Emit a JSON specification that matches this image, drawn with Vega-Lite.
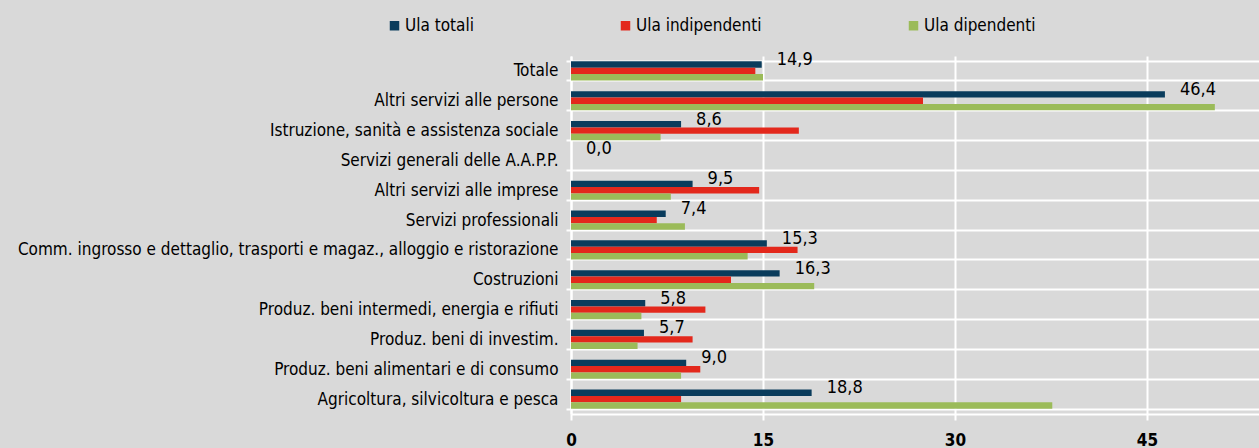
{
  "$schema": "https://vega.github.io/schema/vega-lite/v6.json",
  "autosize": {"type": "none"},
  "width": 688,
  "height": 358,
  "padding": {"left": 571, "top": 56, "right": 0, "bottom": 34},
  "background": "#d9d9d9",
  "config": {
    "view": {"stroke": null},
    "font": "DejaVu Sans Condensed, sans-serif",
    "locale": {"number": {"decimal": ",", "thousands": ".", "grouping": [3], "currency": ["€", ""]}}
  },
  "data": {
    "values": [
      {"settore": "Totale", "serie": "Ula totali", "valore": 14.9},
      {"settore": "Totale", "serie": "Ula indipendenti", "valore": 14.4},
      {"settore": "Totale", "serie": "Ula dipendenti", "valore": 15.0},
      {"settore": "Altri servizi alle persone", "serie": "Ula totali", "valore": 46.4},
      {"settore": "Altri servizi alle persone", "serie": "Ula indipendenti", "valore": 27.5},
      {"settore": "Altri servizi alle persone", "serie": "Ula dipendenti", "valore": 50.3},
      {"settore": "Istruzione, sanità e assistenza sociale", "serie": "Ula totali", "valore": 8.6},
      {"settore": "Istruzione, sanità e assistenza sociale", "serie": "Ula indipendenti", "valore": 17.8},
      {"settore": "Istruzione, sanità e assistenza sociale", "serie": "Ula dipendenti", "valore": 7.0},
      {"settore": "Servizi generali delle A.A.P.P.", "serie": "Ula totali", "valore": 0.0},
      {"settore": "Servizi generali delle A.A.P.P.", "serie": "Ula indipendenti", "valore": 0.0},
      {"settore": "Servizi generali delle A.A.P.P.", "serie": "Ula dipendenti", "valore": 0.0},
      {"settore": "Altri servizi alle imprese", "serie": "Ula totali", "valore": 9.5},
      {"settore": "Altri servizi alle imprese", "serie": "Ula indipendenti", "valore": 14.7},
      {"settore": "Altri servizi alle imprese", "serie": "Ula dipendenti", "valore": 7.8},
      {"settore": "Servizi professionali", "serie": "Ula totali", "valore": 7.4},
      {"settore": "Servizi professionali", "serie": "Ula indipendenti", "valore": 6.7},
      {"settore": "Servizi professionali", "serie": "Ula dipendenti", "valore": 8.9},
      {"settore": "Comm. ingrosso e dettaglio, trasporti e magaz., alloggio e ristorazione", "serie": "Ula totali", "valore": 15.3},
      {"settore": "Comm. ingrosso e dettaglio, trasporti e magaz., alloggio e ristorazione", "serie": "Ula indipendenti", "valore": 17.7},
      {"settore": "Comm. ingrosso e dettaglio, trasporti e magaz., alloggio e ristorazione", "serie": "Ula dipendenti", "valore": 13.8},
      {"settore": "Costruzioni", "serie": "Ula totali", "valore": 16.3},
      {"settore": "Costruzioni", "serie": "Ula indipendenti", "valore": 12.5},
      {"settore": "Costruzioni", "serie": "Ula dipendenti", "valore": 19.0},
      {"settore": "Produz. beni intermedi, energia e rifiuti", "serie": "Ula totali", "valore": 5.8},
      {"settore": "Produz. beni intermedi, energia e rifiuti", "serie": "Ula indipendenti", "valore": 10.5},
      {"settore": "Produz. beni intermedi, energia e rifiuti", "serie": "Ula dipendenti", "valore": 5.5},
      {"settore": "Produz. beni di investim.", "serie": "Ula totali", "valore": 5.7},
      {"settore": "Produz. beni di investim.", "serie": "Ula indipendenti", "valore": 9.5},
      {"settore": "Produz. beni di investim.", "serie": "Ula dipendenti", "valore": 5.2},
      {"settore": "Produz. beni alimentari e di consumo", "serie": "Ula totali", "valore": 9.0},
      {"settore": "Produz. beni alimentari e di consumo", "serie": "Ula indipendenti", "valore": 10.1},
      {"settore": "Produz. beni alimentari e di consumo", "serie": "Ula dipendenti", "valore": 8.6},
      {"settore": "Agricoltura, silvicoltura e pesca", "serie": "Ula totali", "valore": 18.8},
      {"settore": "Agricoltura, silvicoltura e pesca", "serie": "Ula indipendenti", "valore": 8.6},
      {"settore": "Agricoltura, silvicoltura e pesca", "serie": "Ula dipendenti", "valore": 37.6}
    ]
  },
  "encoding": {
    "y": {
      "field": "settore",
      "type": "nominal",
      "sort": ["Totale", "Altri servizi alle persone", "Istruzione, sanità e assistenza sociale", "Servizi generali delle A.A.P.P.", "Altri servizi alle imprese", "Servizi professionali", "Comm. ingrosso e dettaglio, trasporti e magaz., alloggio e ristorazione", "Costruzioni", "Produz. beni intermedi, energia e rifiuti", "Produz. beni di investim.", "Produz. beni alimentari e di consumo", "Agricoltura, silvicoltura e pesca"],
      "scale": {"paddingInner": 0.36, "paddingOuter": 0.18},
      "axis": {
        "title": null,
        "tickBand": "extent",
        "grid": true,
        "gridColor": "#ffffff",
        "gridWidth": 2,
        "gridOpacity": 1,
        "domainColor": "#ffffff",
        "domainWidth": 2,
        "tickColor": "#ffffff",
        "tickWidth": 2,
        "tickSize": 5,
        "labelFontSize": 17,
        "labelColor": "#000000",
        "labelPadding": 8,
        "labelLimit": 600
      }
    },
    "x": {
      "field": "valore",
      "type": "quantitative",
      "scale": {"domain": [0, 53.75], "nice": false},
      "axis": {
        "title": null,
        "values": [0, 15, 30, 45],
        "format": "d",
        "grid": true,
        "gridColor": "#ffffff",
        "gridWidth": 2,
        "gridOpacity": 1,
        "domainColor": "#ffffff",
        "domainWidth": 2,
        "tickColor": "#ffffff",
        "tickWidth": 2,
        "tickSize": 6,
        "labelFontSize": 17,
        "labelFontWeight": "bold",
        "labelColor": "#000000",
        "labelPadding": 12,
        "labelFlush": false
      }
    }
  },
  "layer": [
    {
      "mark": {"type": "bar"},
      "encoding": {
        "yOffset": {"field": "serie", "type": "nominal", "sort": ["Ula totali", "Ula indipendenti", "Ula dipendenti"]},
        "color": {
          "field": "serie",
          "type": "nominal",
          "sort": ["Ula totali", "Ula indipendenti", "Ula dipendenti"],
          "scale": {"domain": ["Ula totali", "Ula indipendenti", "Ula dipendenti"], "range": ["#0a3c5c", "#e3281c", "#9bbb59"]},
          "legend": {
            "title": null,
            "orient": "none",
            "direction": "horizontal",
            "legendX": -185,
            "legendY": -39,
            "symbolType": "square",
            "symbolSize": 90,
            "symbolStrokeWidth": 0,
            "labelFontSize": 17,
            "labelColor": "#000000",
            "labelOffset": 2,
            "columnPadding": 143
          }
        }
      }
    },
    {
      "transform": [{"filter": "datum.serie === 'Ula totali'"}],
      "mark": {"type": "text", "align": "left", "baseline": "middle", "dx": 15, "dy": -11, "fontSize": 18, "color": "#000000"},
      "encoding": {
        "text": {"field": "valore", "type": "quantitative", "format": ".1f"}
      }
    }
  ]
}
